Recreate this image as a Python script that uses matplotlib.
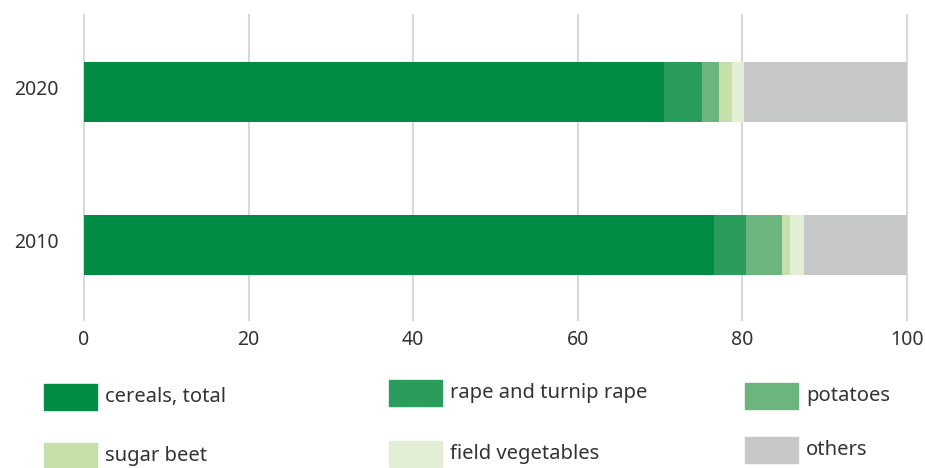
import matplotlib
matplotlib.use("Agg")
import matplotlib.pyplot as plt
from matplotlib.patches import Rectangle

plt.rcParams['font.family'] = ['Noto Sans', 'DejaVu Sans']

years = ["2010", "2020"]
categories = ["cereals, total", "rape and turnip rape", "potatoes",
              "sugar beet", "field vegetables", "others"]
values_2010 = [76.5, 3.9, 4.4, 1.0, 1.7, 12.5]
values_2020 = [70.5, 4.6, 2.0, 1.6, 1.5, 19.8]
colors = ["#008c45", "#2a9d5c", "#6db57f", "#c5e0a8", "#e2efd6", "#c6c8c7"]
xticks = [0, 20, 40, 60, 80, 100]

fig = plt.figure(figsize=(9.25, 4.68), dpi=100)
ax = fig.add_axes([84/925, 1-320/468, (907-84)/925, (320-15)/468])

series = list(zip(*[values_2010, values_2020]))
ypos = list(range(len(years)))
left = [0.0] * len(years)
for cat, vals, col in zip(categories, series, colors):
    ax.barh(ypos, vals, left=left, height=0.39, color=col, label=cat, zorder=3)
    left = [l + v for l, v in zip(left, vals)]

ax.set_xlim(0, 100)
ax.set_ylim(-0.49, 1.5)
ax.set_xticks(xticks)
ax.set_xticklabels([str(t) for t in xticks], fontsize=14, color="#333333")
ax.set_yticks([y + 0.03 for y in ypos])
ax.set_yticklabels(years, fontsize=14, color="#333333")
ax.tick_params(axis="both", length=0)
ax.tick_params(axis="x", pad=7)
ax.tick_params(axis="y", pad=18.5)
for s in ax.spines.values():
    s.set_visible(False)
ax.grid(axis="x", color="#d9d9d9", linewidth=1.5, zorder=0)
ax.grid(axis="y", visible=False)
ax.set_axisbelow(True)
for gl in ax.get_xgridlines():
    gl.set_clip_on(False)

# legend, laid out manually
legend_pos = [(44, 384), (389, 380), (745, 383), (44, 443), (389, 441), (745, 437)]
for (px, py), cat, col in zip(legend_pos, categories, colors):
    fig.add_artist(Rectangle((px/925, 1-(py+26)/468), 53/925, 26/468,
                             transform=fig.transFigure, color=col))
    fig.text((px+61)/925, 1-(py+13)/468, cat, fontsize=14.5, color="#333333",
             va="center", ha="left")

fig.savefig("out.png", dpi=100)
